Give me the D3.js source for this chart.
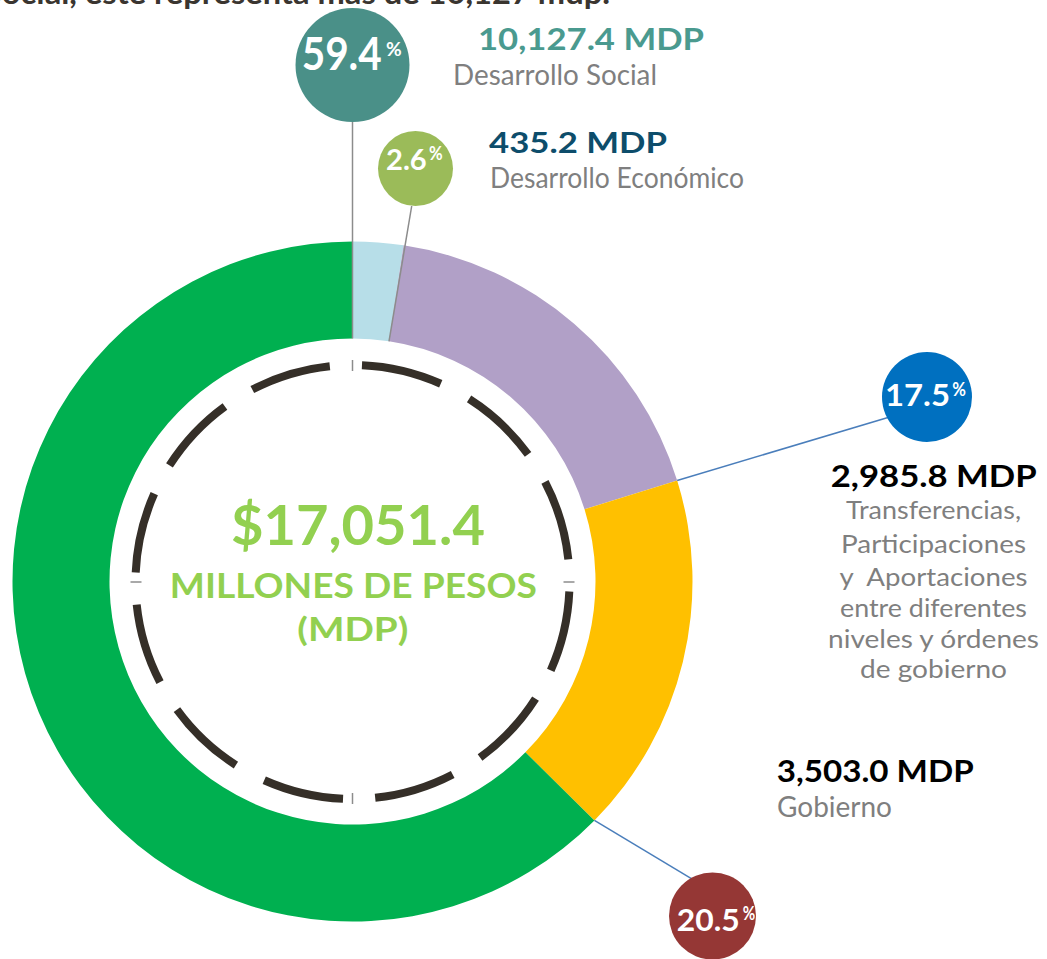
<!DOCTYPE html>
<html>
<head>
<meta charset="utf-8">
<script src="https://cdn.jsdelivr.net/npm/d3@7"></script>
<style>
  body { margin: 0; background: #fff; }
  svg { display: block; font-family: Lato, "Open Sans", sans-serif; }
</style>
</head>
<body>
<div id="chart"></div>
<script>
// Datos del presupuesto
var categorias = ["Desarrollo Económico", "Transferencias", "Gobierno", "Desarrollo Social"];
var montos = [435.2, 2985.8, 3503.0, 10127.4];
var porcentajes = [2.6, 17.5, 20.5, 59.4];
// tamaño de cada arco tal como aparece dibujado en el anillo (%)
var arcos = [2.4, 17.8, 17.2, 62.6];
var descripciones = [
    ["Desarrollo Económico"],
    ["Transferencias,", "Participaciones", "y  Aportaciones", "entre diferentes", "niveles y órdenes", "de gobierno"],
    ["Gobierno"],
    ["Desarrollo Social"]
];
var total = 17051.4;

var width = 1047, height = 959;
var cx = 352.5, cy = 581.5;
var colores = ["#b7dee8", "#b1a0c7", "#ffc000", "#00b050"];

// posiciones de burbujas y etiquetas (maquetación)
var layout = [
    { bx: 415.5, by: 168.5, br: 37.5, fill: "#9bbb59", px: 386, pb: 170, pw: 40.7, ps: 29, sx: 429, sb: 159.8, sw: 13.7,
      lx: 411.7, ly: 206, edge: "inner", line: "#8c8c8c",
      mx: 489, mb: 153, mw: 178, ms: 29, mc: "#0d4d6b",
      dx: 490, db: [188.3], dw: [254], ds: 28, anchor: "start" },
    { bx: 927, by: 397, br: 45, fill: "#0070c0", px: 885, pb: 406, pw: 65, ps: 30.5, sx: 952.3, sb: 395.5, sw: 13.7,
      lx: 893, ly: 416, edge: "outer", line: "#4a7ebb",
      mx: 830.7, mb: 486.7, mw: 206, ms: 31, mc: "#000",
      dx: 933.5, db: [519.3, 553.3, 586, 617.3, 648.3, 678.3], dw: [175, 185, 188, 187, 211, 147], ds: 25, anchor: "middle" },
    { bx: 712.5, by: 916, br: 43.5, fill: "#953735", px: 676.7, pb: 930.7, pw: 63, ps: 31, sx: 742.7, sb: 920, sw: 12.5,
      lx: 699.3, ly: 883.3, edge: "outer", line: "#4a7ebb",
      mx: 776.7, mb: 781.7, mw: 197, ms: 29.5, mc: "#000",
      dx: 777, db: [816.7], dw: [115], ds: 28, anchor: "start" },
    { bx: 352.5, by: 65, br: 57, fill: "#4a9088", px: 301.7, pb: 70, pw: 80, ps: 46, sx: 386, sb: 55.8, sw: 15.7,
      lx: 352.5, ly: 122, edge: "inner", line: "#8c8c8c",
      mx: 478, mb: 50, mw: 226, ms: 30.5, mc: "#4a9a8f",
      dx: 453, db: [85], dw: [204], ds: 28, anchor: "start" }
];

var outerR = 340, innerR = 243;

var svg = d3.select("#chart").append("svg")
    .attr("width", width)
    .attr("height", height);

// texto superior recortado
svg.append("text")
    .attr("x", -16).attr("y", 4)
    .attr("textLength", 626)
    .attr("lengthAdjust", "spacingAndGlyphs")
    .style("font-size", "30px").style("font-weight", "bold")
    .style("fill", "#3a3530")
    .text("Social, este representa más de 10,127 mdp.");

var pie = d3.pie().sort(null).value(function(d) { return d; });
var arcData = pie(arcos);

var arc = d3.arc().innerRadius(innerR).outerRadius(outerR);

var ring = svg.append("g").attr("transform", "translate(" + cx + "," + cy + ")");
ring.selectAll("path.seg")
    .data(arcData)
    .enter().append("path")
    .attr("class", "seg")
    .attr("d", arc)
    .attr("fill", function(d, i) { return colores[i]; });

// círculo punteado interior
var dashArc = d3.arc().innerRadius(213).outerRadius(221);
var rad = Math.PI / 180;
var dashes = svg.append("g").attr("transform", "translate(" + cx + "," + (cy + 0.5) + ")");
dashes.selectAll("path")
    .data(d3.range(12))
    .enter().append("path")
    .attr("d", function(k) {
        return dashArc({ startAngle: (2.5 + 30 * k) * rad, endAngle: (24 + 30 * k) * rad });
    })
    .attr("fill", "#352f28");

dashes.selectAll("line")
    .data([0, 90, 180, 270])
    .enter().append("line")
    .attr("x1", function(a) { return Math.sin(a * rad) * 211; })
    .attr("y1", function(a) { return -Math.cos(a * rad) * 211; })
    .attr("x2", function(a) { return Math.sin(a * rad) * 222; })
    .attr("y2", function(a) { return -Math.cos(a * rad) * 222; })
    .attr("stroke", "#8c8c8c")
    .attr("stroke-width", 1.5);

// líneas guía
arcData.forEach(function(d, i) {
    var L = layout[i];
    var r = L.edge === "inner" ? innerR : outerR;
    svg.append("line")
        .attr("x1", cx + Math.sin(d.endAngle) * r)
        .attr("y1", cy - Math.cos(d.endAngle) * r)
        .attr("x2", L.lx)
        .attr("y2", L.ly)
        .attr("stroke", L.line)
        .attr("stroke-width", 1.5);
});

var fmtMonto = d3.format(",.1f");
var fmtPct = d3.format(".1f");

// burbujas con porcentajes
layout.forEach(function(L, i) {
    svg.append("circle")
        .attr("cx", L.bx).attr("cy", L.by).attr("r", L.br)
        .attr("fill", L.fill);
    svg.append("text")
        .attr("x", L.px).attr("y", L.pb)
        .attr("textLength", L.pw).attr("lengthAdjust", "spacingAndGlyphs")
        .style("font-size", L.ps + "px").style("font-weight", "bold")
        .style("fill", "#fff")
        .text(fmtPct(porcentajes[i]));
    svg.append("text")
        .attr("x", L.sx).attr("y", L.sb)
        .attr("textLength", L.sw).attr("lengthAdjust", "spacingAndGlyphs")
        .style("font-size", "18px").style("font-weight", "bold")
        .style("fill", "#fff")
        .text("%");

    // monto
    svg.append("text")
        .attr("x", L.mx).attr("y", L.mb)
        .attr("textLength", L.mw).attr("lengthAdjust", "spacingAndGlyphs")
        .style("font-size", L.ms + "px").style("font-weight", "bold")
        .style("fill", L.mc)
        .text(fmtMonto(montos[i]) + " MDP");

    // descripción
    descripciones[i].forEach(function(t, j) {
        svg.append("text")
            .attr("x", L.dx).attr("y", L.db[j])
            .attr("text-anchor", L.anchor)
            .attr("textLength", L.dw[j]).attr("lengthAdjust", "spacingAndGlyphs")
            .style("font-size", L.ds + "px")
            .style("fill", "#7f7f7f")
            .style("white-space", "pre")
            .text(t);
    });
});

// texto central
var centro = [
    { t: "$" + fmtMonto(total), x: 357.9, y: 545, s: 55.5, w: 254 },
    { t: "MILLONES DE PESOS", x: 353.3, y: 598.3, s: 34, w: 367 },
    { t: "(MDP)", x: 352.8, y: 641, s: 33, w: 111 }
];
svg.selectAll("text.centro")
    .data(centro)
    .enter().append("text")
    .attr("class", "centro")
    .attr("x", function(d) { return d.x; })
    .attr("y", function(d) { return d.y; })
    .attr("text-anchor", "middle")
    .attr("textLength", function(d) { return d.w; })
    .attr("lengthAdjust", "spacingAndGlyphs")
    .style("font-size", function(d) { return d.s + "px"; })
    .style("font-weight", "bold")
    .style("fill", "#92d050")
    .text(function(d) { return d.t; });
</script>
</body>
</html>
